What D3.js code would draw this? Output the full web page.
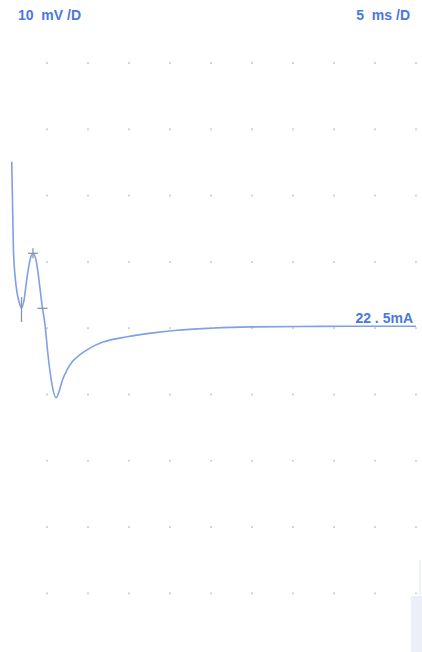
<!DOCTYPE html>
<html>
<head>
<meta charset="utf-8">
<script src="https://cdn.jsdelivr.net/npm/d3@7"></script>
<style>
  html, body { margin: 0; padding: 0; background: #fff; }
  svg { display: block; }
  text { font-family: "Liberation Sans Narrow", "Liberation Sans", Arial, sans-serif; font-weight: bold; }
</style>
</head>
<body>
<svg id="chart" width="422" height="652"></svg>
<script>
// Screen settings
const voltsPerDiv = 10;   // mV per division
const timePerDiv = 5;     // ms per division
const divX = 10, divY = 10;
const scaleLabels = ["10  mV /D", "5  ms /D"];
const stimLabel = "22 . 5mA";

// Recorded response: time (ms) and amplitude (mV, positive up)
const timeMs = [0.70, 0.79, 0.91, 1.22, 1.59, 1.89, 2.20, 2.56, 2.93, 3.29, 3.66, 4.02, 4.39, 4.76,
                5.12, 5.61, 6.10, 6.46, 6.83, 7.44, 8.05, 9.02, 10.24, 11.83, 14.76, 17.93, 20.85,
                24.9, 29.8, 35.9, 42.0, 50.0];
const voltMv = [25.1, 19.3, 11.8, 6.5, 4.0, 3.05, 4.25, 7.6, 10.3, 11.3, 10.3, 7.3, 3.5, 0.5,
                -4.0, -8.5, -10.5, -9.6, -8.0, -6.3, -5.1, -4.0, -3.0, -2.1, -1.3, -0.7, -0.3,
                0.0, 0.2, 0.25, 0.3, 0.3];

// Cursor marks placed on the trace
const markerTime = [1.89, 3.29, 4.45];
const markerVolt = [3.05, 11.3, 3.0];
const markerKind = ["vertical", "cross", "horizontal"];

const svg = d3.select("#chart");
const x = d3.scaleLinear().domain([0, divX * timePerDiv]).range([6, 416]);
const y = d3.scaleLinear().domain([-divY / 2 * voltsPerDiv, divY / 2 * voltsPerDiv]).range([659.7, -3.3]);

// Graticule dots at the division intersections
const gx = d3.range(1, divX + 1).map(i => i * timePerDiv);
const gy = d3.range(-divY / 2 + 1, divY / 2).map(i => i * voltsPerDiv);
const dots = svg.append("g").attr("fill", "#d4d4d4");
gy.forEach(v => {
  gx.forEach(t => {
    dots.append("rect")
      .attr("x", x(t) - 1).attr("y", y(v) - 1)
      .attr("width", 2).attr("height", 2);
  });
});

// Faint strip at the lower right edge of the sheet
svg.append("rect").attr("x", 411).attr("y", 596).attr("width", 11).attr("height", 56)
  .attr("fill", "#eceef8");
svg.append("line").attr("x1", 420).attr("x2", 420).attr("y1", 560).attr("y2", 596)
  .attr("stroke", "#e4e6f0").attr("stroke-width", 1);

// Trace
const pts = timeMs.map((t, i) => [t, voltMv[i]]);
const line = d3.line().x(d => x(d[0])).y(d => y(d[1])).curve(d3.curveMonotoneX);
svg.append("path").datum(pts)
  .attr("d", line)
  .attr("fill", "none")
  .attr("stroke", "#7f9fe6")
  .attr("stroke-width", 1.6)
  .attr("stroke-linejoin", "round");

// Cursor marks
const mk = svg.append("g").attr("stroke", "#8c93aa").attr("stroke-width", 1.3);
markerTime.forEach((t, i) => {
  const cx = x(t), cy = y(markerVolt[i]);
  const kind = markerKind[i];
  if (kind === "vertical") {
    mk.append("line").attr("x1", cx).attr("x2", cx).attr("y1", cy - 11).attr("y2", cy + 14);
  } else if (kind === "cross") {
    mk.append("line").attr("x1", cx - 5).attr("x2", cx + 5).attr("y1", cy).attr("y2", cy);
    mk.append("line").attr("x1", cx).attr("x2", cx).attr("y1", cy - 5).attr("y2", cy + 5);
  } else {
    mk.append("line").attr("x1", cx - 5).attr("x2", cx + 5).attr("y1", cy).attr("y2", cy);
  }
});

// Scale labels
svg.append("text").attr("x", 18).attr("y", 20)
  .attr("fill", "#4a78dc").attr("font-size", 14).attr("xml:space", "preserve")
  .style("white-space", "pre").text(scaleLabels[0]);
svg.append("text").attr("x", 410).attr("y", 20).attr("text-anchor", "end")
  .attr("fill", "#4a78dc").attr("font-size", 14).attr("xml:space", "preserve")
  .style("white-space", "pre").text(scaleLabels[1]);

// Stimulus intensity label above the trace tail
svg.append("text").attr("x", 413).attr("y", y(voltMv[voltMv.length - 1]) - 3).attr("text-anchor", "end")
  .attr("fill", "#4a78dc").attr("font-size", 14).attr("xml:space", "preserve")
  .style("white-space", "pre").text(stimLabel);
</script>
</body>
</html>
